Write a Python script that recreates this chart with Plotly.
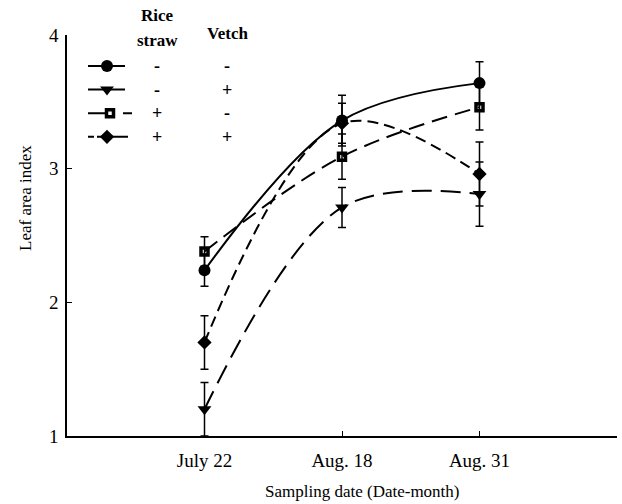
import plotly.graph_objects as go

# Sampling dates and their slots on the category axis
dates = ["July 22", "Aug. 18", "Aug. 31"]
date_pos = [1, 2, 3]

# Leaf area index (mean) and error (±) for each treatment
lai_none = [2.24, 3.36, 3.64]      # rice straw -, vetch -
err_none = [0.12, 0.19, 0.16]
lai_vetch = [1.20, 2.71, 2.81]     # rice straw -, vetch +
err_vetch = [0.20, 0.15, 0.24]
lai_straw = [2.38, 3.09, 3.46]     # rice straw +, vetch -
err_straw = [0.11, 0.17, 0.17]
lai_both = [1.70, 3.34, 2.96]      # rice straw +, vetch +
err_both = [0.20, 0.15, 0.24]

# Treatment table shown in the key
rice_straw = ["-", "-", "+", "+"]
vetch = ["-", "+", "-", "+"]

y_ticks = [1, 2, 3, 4]

FONT = "Liberation Serif"
INK = "black"

# Plot-area size in pixels (used to place the key and titles)
W, H = 622, 504
ML, MR, MT, MB = 67, 5, 35, 68
PW, PH = W - ML - MR, H - MT - MB

series = [
    dict(y=lai_none, err=err_none, symbol="circle", size=12, dash="solid", mline=0,
         key_x=[21, 58], key_dash="solid", key_mark=40),
    dict(y=lai_vetch, err=err_vetch, symbol="triangle-down", size=12, dash="20px,9px", mline=0,
         key_x=[21, 58], key_dash="solid", key_mark=40),
    dict(y=lai_straw, err=err_straw, symbol="square-open", size=7, dash="16px,8px", mline=3.5,
         key_x=[21, 65], key_dash="17px,18px,10px", key_mark=43),
    dict(y=lai_both, err=err_both, symbol="diamond", size=11, dash="11px,6px", mline=0,
         key_x=[21, 61], key_dash="6px,3px,60px", key_mark=40),
]

fig = go.Figure()

for s in series:
    fig.add_trace(go.Scatter(
        x=date_pos, y=s["y"], mode="lines+markers",
        line=dict(color=INK, width=2, dash=s["dash"], shape="spline", smoothing=1),
        marker=dict(symbol=s["symbol"], size=s["size"], color=INK,
                    line=dict(color=INK, width=s["mline"])),
        error_y=dict(type="data", array=s["err"], visible=True,
                     color=INK, thickness=1.5, width=4),
        showlegend=False, hoverinfo="skip",
    ))

# Key drawn on an overlay axis measured in pixels from the plot's top-left corner
row_y0, row_step = 31, 23.6
col_straw, col_vetch = 90, 160


def paper_x(px):
    return px / PW


def paper_y(py):
    return 1 - py / PH


def label(text, px, py, size, angle=0):
    return dict(
        x=paper_x(px), y=paper_y(py), xref="paper", yref="paper",
        xanchor="center", yanchor="middle", text=text, showarrow=False,
        textangle=angle, font=dict(family=FONT, size=size, color=INK),
    )


annotations = []
for i, s in enumerate(series):
    ry = row_y0 + i * row_step
    fig.add_trace(go.Scatter(
        x=s["key_x"], y=[ry, ry], mode="lines", xaxis="x2", yaxis="y2",
        line=dict(color=INK, width=2, dash=s["key_dash"]),
        showlegend=False, hoverinfo="skip",
    ))
    fig.add_trace(go.Scatter(
        x=[s["key_mark"]], y=[ry], mode="markers", xaxis="x2", yaxis="y2",
        marker=dict(symbol=s["symbol"], size=s["size"], color=INK,
                    line=dict(color=INK, width=s["mline"])),
        showlegend=False, hoverinfo="skip",
    ))
    annotations.append(label("<b>%s</b>" % rice_straw[i], col_straw, ry, 18))
    annotations.append(label("<b>%s</b>" % vetch[i], col_vetch, ry, 18))

annotations.append(label("<b>Rice</b>", col_straw, -20, 17))
annotations.append(label("<b>straw</b>", col_straw, 5, 17))
annotations.append(label("<b>Vetch</b>", col_vetch, -2, 17))

# Axis titles
annotations.append(label("Sampling date (Date-month)", 362 - ML, 491 - MT, 17))
annotations.append(label("Leaf area index", 25 - ML, 198 - MT, 17, angle=-90))

fig.update_layout(
    width=W, height=H,
    margin=dict(l=ML, r=MR, t=MT, b=MB),
    paper_bgcolor="white", plot_bgcolor="white",
    font=dict(family=FONT, color=INK),
    annotations=annotations,
    xaxis=dict(
        range=[0, 4], tickmode="array", tickvals=date_pos, ticktext=dates,
        showline=True, linecolor=INK, linewidth=1.5, mirror=False,
        ticks="inside", ticklen=5, tickwidth=1.2, tickcolor=INK,
        showgrid=False, zeroline=False, ticklabelstandoff=6,
        tickfont=dict(family=FONT, size=19, color=INK),
    ),
    yaxis=dict(
        range=[1, 4], tickmode="array", tickvals=y_ticks,
        showline=True, linecolor=INK, linewidth=1.5, mirror=False,
        ticks="inside", ticklen=5, tickwidth=1.2, tickcolor=INK,
        showgrid=False, zeroline=False, ticklabelstandoff=3,
        tickfont=dict(family=FONT, size=19, color=INK),
    ),
    xaxis2=dict(range=[0, PW], overlaying="x", anchor="y2", visible=False,
                showgrid=False, zeroline=False),
    yaxis2=dict(range=[PH, 0], overlaying="y", anchor="x2", visible=False,
                showgrid=False, zeroline=False),
)

fig.write_html("out.html")
